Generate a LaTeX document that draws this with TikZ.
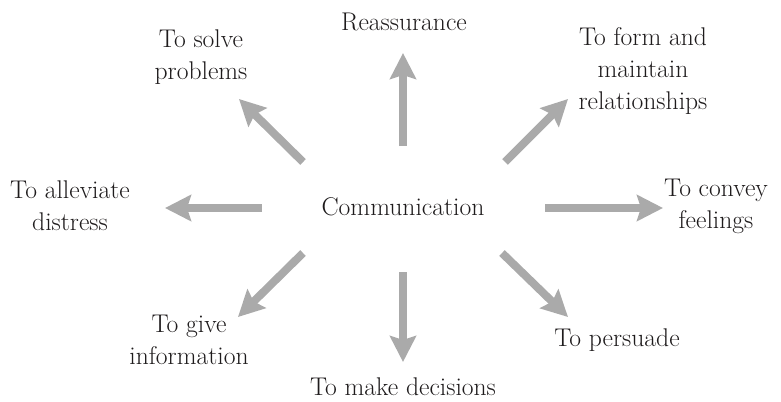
\documentclass[tikz,border=0pt]{standalone}
\usetikzlibrary{arrows.meta,positioning}
\definecolor{arrowgray}{RGB}{170,170,170}
\definecolor{textdark}{RGB}{30,27,28}
\tikzset{
  lbl/.style={align=center,text=textdark,font=\fontsize{19.2}{24}\selectfont},
  bigarrow/.style={draw=arrowgray,line width=6pt,-{Stealth[length=19.5pt,width=19.5pt,inset=3pt]}}
}

\begin{document}
\begin{tikzpicture}[x=0.75pt,y=-0.75pt]
      \useasboundingbox (0,0) rectangle (781,401);
      \node[lbl] (comm) at (403,207) {Communication};
      \node[lbl] (reass) at (404,22) {Reassurance};
      \node[lbl] (solve) at (201,57) {To solve\\problems};
      \node[lbl] (form) at (643,71) {To form and\\maintain\\relationships};
      \node[lbl] (allev) at (70,206) {To alleviate\\distress};
      \node[lbl] (convey) at (716,206) {To convey\\feelings};
      \node[lbl] (give) at (189,340) {To give\\information};
      \node[lbl] (decide) at (403,387) {To make decisions};
      \node[lbl] (persuade) at (617,340) {To persuade};
      % arrows: name/tail/tip
      \foreach \n/\xa/\ya/\xb/\yb in {n/403/146/403/53, s/403/272/403/362,
        w/262/208/165/208, e/545/208/663/208, nw/303/162/239/99,
        ne/505/162/568/99, sw/303/253/238/317, se/502/253/568/317} {
        \coordinate (\n-tail) at (\xa,\ya);
        \coordinate (\n-tip) at (\xb,\yb);
        \draw[bigarrow] (\n-tail) -- (\n-tip);
      }
\end{tikzpicture}
\end{document}
